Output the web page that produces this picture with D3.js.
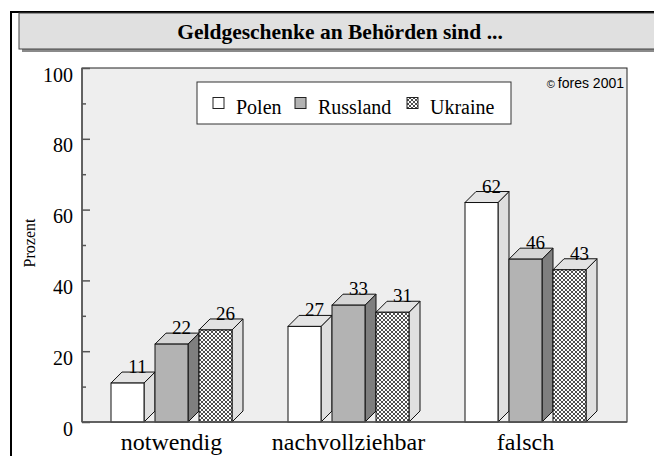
<!DOCTYPE html>
<html>
<head>
<meta charset="utf-8">
<script src="https://cdn.jsdelivr.net/npm/d3@7"></script>
<style>
  body { margin: 0; background: #fff; }
  svg { display: block; }
</style>
</head>
<body>
<svg width="654" height="456"></svg>
<script>
const categories = ["notwendig", "nachvollziehbar", "falsch"];
const series = ["Polen", "Russland", "Ukraine"];
const polen = [11, 27, 62];
const russland = [22, 33, 46];
const ukraine = [26, 31, 43];
const yTicks = [0, 20, 40, 60, 80, 100];
const titleText = "Geldgeschenke an Behörden sind ...";

const values = [polen, russland, ukraine];
const svg = d3.select("svg");
const serif = "'Liberation Serif', 'Times New Roman', serif";

// hatch pattern for Ukraine
const defs = svg.append("defs");
const pat = defs.append("pattern")
    .attr("id", "hatch")
    .attr("width", 4).attr("height", 4)
    .attr("patternUnits", "userSpaceOnUse");
pat.append("rect").attr("width", 4).attr("height", 4).attr("fill", "#fff");
pat.append("path")
    .attr("d", "M0,0L4,4M4,0L0,4")
    .attr("stroke", "#222").attr("stroke-width", 0.8);

const faces = {
    Polen:    {front: "#ffffff", top: "#e4e4e4", side: "#dedede"},
    Russland: {front: "#b3b3b3", top: "#d6d6d6", side: "#7f7f7f"},
    Ukraine:  {front: "url(#hatch)", top: "#e2e2e2", side: "#e0e0e0"}
};

// outer frame
svg.append("path")
    .attr("d", "M11,456V12H654")
    .attr("fill", "none").attr("stroke", "#000").attr("stroke-width", 2);

// title bar with shadow
svg.append("rect").attr("x", 22).attr("y", 16).attr("width", 640).attr("height", 36).attr("fill", "#8a8a8a");
svg.append("rect").attr("x", 19).attr("y", 13).attr("width", 640).attr("height", 36)
    .attr("fill", "#e0e0e0").attr("stroke", "#444").attr("stroke-width", 1);
svg.append("text")
    .attr("x", 340).attr("y", 39)
    .attr("text-anchor", "middle")
    .attr("font-family", serif).attr("font-weight", "bold").attr("font-size", 21.5)
    .text(titleText);

// plot area
const plotL = 82, plotR = 627, plotT = 68, plotB = 422;
const depth = 11;

const y = d3.scaleLinear().domain([0, 100]).range([plotB, plotT]);
const x0 = d3.scaleBand().domain(categories).range([83, 614]);
const x1 = d3.scaleBand().domain(series).range([-60.5, 60.5]).paddingInner(0.25);

svg.append("rect")
    .attr("x", plotL).attr("y", plotT)
    .attr("width", plotR - plotL).attr("height", plotB - plotT)
    .attr("fill", "#eeeeee").attr("stroke", "#222").attr("stroke-width", 1);

// y axis: inward ticks
const yAxis = svg.append("g").attr("transform", `translate(${plotL},0)`);
yAxis.call(d3.axisRight(y).tickValues(d3.range(10, 100, 20)).tickSize(4).tickFormat(""));
yAxis.append("g").call(d3.axisRight(y).tickValues(yTicks).tickSize(8).tickFormat(""));
yAxis.selectAll(".domain").remove();
yAxis.selectAll("line").attr("stroke", "#555").attr("stroke-width", 1.5);
svg.append("line").attr("x1", plotL).attr("x2", plotL).attr("y1", plotT).attr("y2", plotB)
    .attr("stroke", "#555").attr("stroke-width", 1.5);

svg.selectAll("text.ytick")
    .data(yTicks).enter().append("text")
    .attr("class", "ytick")
    .attr("x", 73).attr("y", d => y(d) + 13.5)
    .attr("text-anchor", "end")
    .attr("font-family", serif).attr("font-size", 20)
    .text(d => d);

svg.append("text")
    .attr("transform", "translate(35,243) rotate(-90)")
    .attr("text-anchor", "middle")
    .attr("font-family", serif).attr("font-size", 16)
    .text("Prozent");

// bars
const bars = [];
categories.forEach((c, i) => {
    series.forEach((s, j) => {
        bars.push({cat: c, s: s, v: values[j][i]});
    });
});

const g = svg.append("g");
bars.forEach(d => {
    const xl = x0(d.cat) + x0.bandwidth() / 2 + x1(d.s);
    const w = x1.bandwidth();
    const yt = y(d.v);
    const f = faces[d.s];
    // side
    g.append("path")
        .attr("d", `M${xl + w},${plotB}L${xl + w},${yt}L${xl + w + depth},${yt - depth}L${xl + w + depth},${plotB - depth}Z`)
        .attr("fill", f.side).attr("stroke", "#111").attr("stroke-width", 1);
    // top
    g.append("path")
        .attr("d", `M${xl},${yt}L${xl + depth},${yt - depth}L${xl + w + depth},${yt - depth}L${xl + w},${yt}Z`)
        .attr("fill", f.top).attr("stroke", "#111").attr("stroke-width", 1);
    // front
    g.append("rect")
        .attr("x", xl).attr("y", yt).attr("width", w).attr("height", plotB - yt)
        .attr("fill", f.front).attr("stroke", "#111").attr("stroke-width", 1);
    // value label
    g.append("text")
        .attr("x", xl + w / 2 + depth - 1).attr("y", yt - depth + 1)
        .attr("text-anchor", "middle")
        .attr("font-family", serif).attr("font-size", 19)
        .text(d.v);
});

// bottom axis line
svg.append("line").attr("x1", plotL).attr("x2", plotR).attr("y1", plotB).attr("y2", plotB)
    .attr("stroke", "#555").attr("stroke-width", 1.5);

svg.selectAll("text.xcat")
    .data(categories).enter().append("text")
    .attr("class", "xcat")
    .attr("x", d => x0(d) + x0.bandwidth() / 2).attr("y", 450)
    .attr("text-anchor", "middle")
    .attr("font-family", serif).attr("font-size", 24)
    .text(d => d);

// legend
const lg = svg.append("g");
lg.append("rect").attr("x", 197).attr("y", 82).attr("width", 314).attr("height", 42)
    .attr("fill", "#fff").attr("stroke", "#333").attr("stroke-width", 1);
const legendX = [213, 295, 407];
series.forEach((s, j) => {
    lg.append("rect").attr("x", legendX[j]).attr("y", 97.5).attr("width", 11).attr("height", 11)
        .attr("fill", faces[s].front).attr("stroke", "#222").attr("stroke-width", 1);
    lg.append("text").attr("x", legendX[j] + 23).attr("y", 114)
        .attr("font-family", serif).attr("font-size", 20)
        .text(s);
});

// copyright
const cp = svg.append("text")
    .attr("x", 624).attr("y", 88)
    .attr("text-anchor", "end")
    .attr("font-family", "'Liberation Sans', Arial, sans-serif").attr("font-size", 14);
cp.append("tspan").attr("font-size", 11).text("© ");
cp.append("tspan").text("fores 2001");
</script>
</body>
</html>
